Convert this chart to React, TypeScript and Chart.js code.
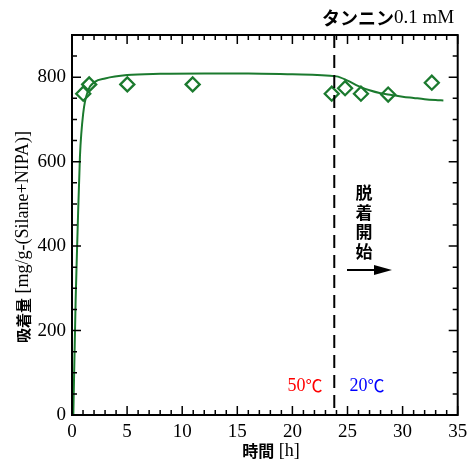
import React, { useEffect, useRef } from "react";
import { Chart, registerables } from "chart.js";

Chart.register(...registerables);

const markerX = [1.02, 1.56, 5.02, 10.95, 23.57, 24.78, 26.22, 28.69, 32.65];
const markerY = [761, 783, 783, 783, 761, 774, 761, 759, 787];

const curveX = [0.12, 0.33, 0.5, 0.72, 1.02, 1.47, 2.07, 3, 5, 8, 12, 16, 20, 24, 25, 26, 27, 28, 29, 30, 31, 32, 33, 33.7];
const curveY = [0, 272, 430, 612, 715, 769, 789, 797, 805, 808, 809, 809, 807, 802, 792, 779, 769, 762, 758, 754, 751, 748, 746, 745];

const xTicks = [0, 5, 10, 15, 20, 25, 30, 35];
const yTicks = [0, 200, 400, 600, 800];
const switchTime = 23.8;

const GREEN = "#1b7a2e";
const SERIF = "'Liberation Serif', 'Noto Sans CJK JP', serif";
const CJK = "'Noto Sans CJK JP', sans-serif";

function mixedText(ctx: any, parts: [string, string][], cx: number, cy: number) {
  let total = 0;
  const widths = parts.map(([t, f]) => { ctx.font = f; const w = ctx.measureText(t).width; total += w; return w; });
  let x = cx - total / 2;
  ctx.textAlign = "left";
  ctx.textBaseline = "middle";
  parts.forEach(([t, f], i) => { ctx.font = f; ctx.fillText(t, x, cy); x += widths[i]; });
}

const decor = {
  id: "decor",
  afterDatasetsDraw(chart: any) {
    const { ctx, chartArea: a, scales } = chart;
    const xs = scales.x, ys = scales.y;
    ctx.save();
    // frame
    ctx.strokeStyle = "#000";
    ctx.lineWidth = 2;
    ctx.strokeRect(a.left, a.top, a.right - a.left, a.bottom - a.top);
    // ticks inward
    ctx.lineWidth = 1.5;
    for (let v = 0; v <= 35; v += 1) {
      const px = xs.getPixelForValue(v);
      const len = v % 5 === 0 ? 9 : 5;
      ctx.beginPath();
      ctx.moveTo(px, a.bottom); ctx.lineTo(px, a.bottom - len);
      ctx.moveTo(px, a.top); ctx.lineTo(px, a.top + len);
      ctx.stroke();
    }
    for (let v = 0; v <= 900; v += 50) {
      const py = ys.getPixelForValue(v);
      const len = v % 200 === 0 ? 9 : 5;
      ctx.beginPath();
      ctx.moveTo(a.left, py); ctx.lineTo(a.left + len, py);
      ctx.moveTo(a.right, py); ctx.lineTo(a.right - len, py);
      ctx.stroke();
    }
    // tick labels
    ctx.fillStyle = "#000";
    ctx.font = `19px ${SERIF}`;
    ctx.textAlign = "center";
    ctx.textBaseline = "middle";
    xTicks.forEach((v) => ctx.fillText(String(v), xs.getPixelForValue(v), a.bottom + 17));
    ctx.textAlign = "right";
    yTicks.forEach((v) => ctx.fillText(String(v), a.left - 6, ys.getPixelForValue(v)));
    // axis titles
    mixedText(ctx, [["時間", `bold 16px ${CJK}`], [" [h]", `18px ${SERIF}`]], 271, 451);
    ctx.save();
    ctx.translate(23, 237);
    ctx.rotate(-Math.PI / 2);
    mixedText(ctx, [["吸着量", `bold 15px ${CJK}`], [" [mg/g-(Silane+NIPA)]", `18px ${SERIF}`]], 0, 0);
    ctx.restore();
    // dashed line at switch time
    const dx = xs.getPixelForValue(switchTime);
    ctx.setLineDash([13, 7]);
    ctx.lineWidth = 2;
    ctx.beginPath();
    ctx.moveTo(dx, a.top);
    ctx.lineTo(dx, a.bottom);
    ctx.stroke();
    ctx.setLineDash([]);
    // arrow
    const ay = 270;
    ctx.lineWidth = 2;
    ctx.beginPath();
    ctx.moveTo(347, ay); ctx.lineTo(378, ay);
    ctx.stroke();
    ctx.beginPath();
    ctx.moveTo(392, ay); ctx.lineTo(374, ay - 5); ctx.lineTo(374, ay + 5);
    ctx.closePath();
    ctx.fill();
    // vertical text
    ctx.font = `bold 17px ${CJK}`;
    ctx.textAlign = "center";
    ctx.textBaseline = "middle";
    ["脱", "着", "開", "始"].forEach((c, i) => ctx.fillText(c, 364, 193 + i * 19.5));
    // temperatures
    ctx.fillStyle = "#ff0000";
    mixedText(ctx, [["50", `18px ${SERIF}`], ["℃", `17px ${CJK}`]], 305, 386);
    ctx.fillStyle = "#0000ff";
    mixedText(ctx, [["20", `18px ${SERIF}`], ["℃", `17px ${CJK}`]], 367, 386);
    // top title
    ctx.fillStyle = "#000";
    mixedText(ctx, [["タンニン", `bold 18px ${CJK}`], ["0.1 mM", `19px ${SERIF}`]], 388, 18);
    ctx.restore();
  },
};

export default function App() {
  const ref = useRef<HTMLCanvasElement>(null);
  useEffect(() => {
    if (!ref.current) return;
    const chart = new Chart(ref.current, {
      type: "scatter",
      data: {
        datasets: [
          {
            data: markerX.map((x, i) => ({ x, y: markerY[i] })),
            pointStyle: "rectRot",
            pointRadius: 7,
            pointBorderWidth: 2.3,
            borderColor: GREEN,
            backgroundColor: "rgba(0,0,0,0)",
            showLine: false,
            order: 0,
          } as any,
          {
            data: curveX.map((x, i) => ({ x, y: curveY[i] })),
            showLine: true,
            borderColor: GREEN,
            borderWidth: 2,
            pointRadius: 0,
            cubicInterpolationMode: "monotone",
            order: 1,
          } as any,
        ],
      },
      options: {
        animation: false,
        responsive: false,
        devicePixelRatio: 1,
        layout: { padding: { top: 35, right: 7, left: 0, bottom: 0 } },
        plugins: { legend: { display: false }, tooltip: { enabled: false } },
        scales: {
          x: {
            type: "linear",
            min: 0,
            max: 35,
            grid: { display: false, drawTicks: false },
            border: { display: false },
            ticks: { display: false },
            afterFit: (s: any) => { s.height = 48; },
          },
          y: {
            type: "linear",
            min: 0,
            max: 900,
            grid: { display: false, drawTicks: false },
            border: { display: false },
            ticks: { display: false },
            afterFit: (s: any) => { s.width = 72; },
          },
        },
      } as any,
      plugins: [decor],
    });
    return () => chart.destroy();
  }, []);
  return (
    <canvas
      ref={ref}
      width={467}
      height={463}
      style={{ position: "fixed", left: 0, top: 0, width: 467, height: 463 }}
    />
  );
}
